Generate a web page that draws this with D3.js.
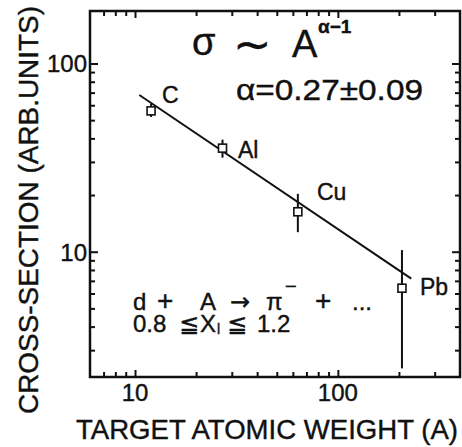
<!DOCTYPE html>
<html>
<head>
<meta charset="utf-8">
<script src="https://cdn.jsdelivr.net/npm/d3@7"></script>
<style>
  body { margin: 0; background: #fff; }
  svg { display: block; font-family: "Liberation Sans", Arial, sans-serif; }
  text { fill: #111; stroke: #111; stroke-width: 0.4; }
</style>
</head>
<body>
<svg id="chart" width="462" height="447"></svg>
<script>
// data
var targets = ["C", "Al", "Cu", "Pb"]
var atomicWeight = [12, 27, 63.5, 207]
var sigma = [56, 35.5, 16.3, 6.4]
var sigmaLo = [52, 31.6, 12.7, 2.4]
var sigmaHi = [61, 39.4, 20.3, 10.2]

// fitted line sigma ~ A^(alpha-1), endpoints as drawn
var fitA = [10.5, 230]
var fitSigma = [68, 7.2]

var xDomain = [6, 400]
var yDomain = [2.16, 190]
var xMajor = [10, 100]
var xMinor = [7, 8, 9, 20, 30, 40, 50, 60, 70, 80, 90, 200, 300]
var yMajor = [10, 100]
var yMinor = [3, 4, 5, 6, 7, 8, 9, 20, 30, 40, 50, 60, 70, 80, 90]

var svg = d3.select("#chart")
var plotL = 90, plotR = 460, plotT = 11, plotB = 377

var x = d3.scaleLog().domain(xDomain).range([plotL, plotR])
var y = d3.scaleLog().domain(yDomain).range([plotB, plotT])

// axes, ticks pointing inward on all four sides
function axis(gen, values, size, tx, ty) {
  var g = svg.append("g")
    .attr("transform", "translate(" + tx + "," + ty + ")")
    .call(gen.tickValues(values).tickSize(size).tickFormat(""))
  g.select(".domain").remove()
  g.selectAll("line").attr("stroke", "#111").attr("stroke-width", 2)
  return g
}
axis(d3.axisLeft(y), yMajor, -8, plotL, 0)
axis(d3.axisLeft(y), yMinor, -5, plotL, 0)
axis(d3.axisRight(y), yMajor, -8, plotR, 0)
axis(d3.axisRight(y), yMinor, -5, plotR, 0)
axis(d3.axisBottom(x), xMajor, -7, 0, plotB)
axis(d3.axisBottom(x), xMinor, -5, 0, plotB)
axis(d3.axisTop(x), xMajor, -7, 0, plotT)
axis(d3.axisTop(x), xMinor, -5, 0, plotT)

svg.append("rect")
  .attr("x", plotL).attr("y", plotT)
  .attr("width", plotR - plotL).attr("height", plotB - plotT)
  .attr("fill", "none").attr("stroke", "#111").attr("stroke-width", 2.5)

// tick labels
svg.selectAll(".ylab").data(yMajor).enter().append("text")
  .attr("x", plotL - 3).attr("y", function(d) { return y(d) + 9 })
  .attr("text-anchor", "end").attr("font-size", 24)
  .text(function(d) { return d })
svg.selectAll(".xlab").data(xMajor).enter().append("text")
  .attr("x", function(d) { return x(d) }).attr("y", 401)
  .attr("text-anchor", "middle").attr("font-size", 24)
  .text(function(d) { return d })

// axis titles
svg.append("text")
  .attr("transform", "translate(38,210) rotate(-90)")
  .attr("text-anchor", "middle").attr("font-size", 28)
  .attr("textLength", 408).attr("lengthAdjust", "spacingAndGlyphs")
  .text("CROSS-SECTION  (ARB.UNITS)")
svg.append("text")
  .attr("x", 76).attr("y", 439).attr("font-size", 28)
  .attr("textLength", 382).attr("lengthAdjust", "spacingAndGlyphs")
  .text("TARGET  ATOMIC  WEIGHT  (A)")

// fit line
svg.append("path")
  .datum(d3.zip(fitA, fitSigma))
  .attr("d", d3.line().x(function(d) { return x(d[0]) }).y(function(d) { return y(d[1]) }))
  .attr("fill", "none").attr("stroke", "#111").attr("stroke-width", 2)

// points with error bars
var pts = d3.range(targets.length).map(function(i) {
  return {name: targets[i], a: atomicWeight[i], s: sigma[i], lo: sigmaLo[i], hi: sigmaHi[i]}
})
var pg = svg.selectAll(".pt").data(pts).enter().append("g")
pg.append("line")
  .attr("x1", function(d) { return x(d.a) }).attr("x2", function(d) { return x(d.a) })
  .attr("y1", function(d) { return y(d.lo) }).attr("y2", function(d) { return y(d.hi) })
  .attr("stroke", "#111").attr("stroke-width", 2)
pg.append("rect")
  .attr("x", function(d) { return x(d.a) - 4 }).attr("y", function(d) { return y(d.s) - 4 })
  .attr("width", 8).attr("height", 8)
  .attr("fill", "#fff").attr("stroke", "#111").attr("stroke-width", 1.6)

// element labels
var labelPos = {C: [162, 103], Al: [238, 158], Cu: [317, 200], Pb: [420, 295]}
pg.append("text")
  .attr("x", function(d) { return labelPos[d.name][0] })
  .attr("y", function(d) { return labelPos[d.name][1] })
  .attr("font-size", 23)
  .text(function(d) { return d.name })

// formula annotations
svg.append("text").attr("x", 192).attr("y", 55).attr("font-size", 38).text("σ")
svg.append("text").attr("x", 233).attr("y", 60).attr("font-size", 46)
  .style("font-family", "DejaVu Sans").text("∼")
svg.append("text").attr("x", 292).attr("y", 57).attr("font-size", 38).text("A")
svg.append("text").attr("x", 318).attr("y", 33).attr("font-size", 19).attr("font-weight", "bold").text("α−1")
svg.append("text").attr("x", 236).attr("y", 100).attr("font-size", 30)
  .attr("textLength", 187).attr("lengthAdjust", "spacingAndGlyphs").text("α=0.27±0.09")

// reaction: d + A -> pi- + ...
var reaction = [["d", 133], ["+", 157], ["A", 200], ["→", 230], ["π", 266], ["+", 315], ["...", 352]]
svg.selectAll(".rx").data(reaction).enter().append("text")
  .attr("x", function(d) { return d[1] }).attr("y", 310)
  .attr("font-size", function(d) { return d[0] === "+" ? 28 : 24 })
  .style("font-family", function(d) { return d[0] === "→" ? "DejaVu Sans" : null })
  .text(function(d) { return d[0] })
svg.append("text").attr("x", 285).attr("y", 293).attr("font-size", 20).text("−")

// cut: 0.8 <= X_l <= 1.2
var cut = [["0.8", 133], ["≦", 179], ["X", 200], ["≦", 227], ["1.2", 257]]
svg.selectAll(".cut").data(cut).enter().append("text")
  .attr("x", function(d) { return d[1] }).attr("y", 332).attr("font-size", 24)
  .style("font-family", function(d) { return d[0] === "≦" ? "DejaVu Sans" : null })
  .text(function(d) { return d[0] })
svg.append("text").attr("x", 217).attr("y", 334).attr("font-size", 14).text("l")
</script>
</body>
</html>
